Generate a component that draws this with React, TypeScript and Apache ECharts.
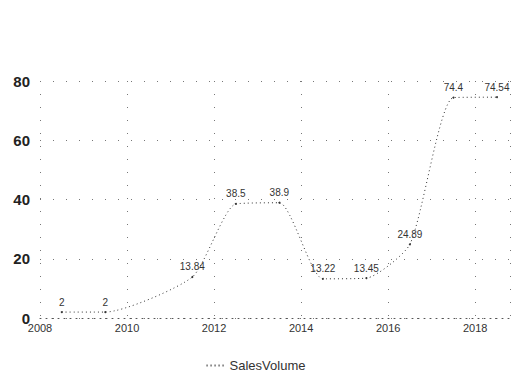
import React, { useEffect, useRef } from "react";
import * as echarts from "echarts";

const years = [2008.5, 2009.5, 2011.5, 2012.5, 2013.5, 2014.5, 2015.5, 2016.5, 2017.5, 2018.5];
const salesVolume = [2, 2, 13.84, 38.5, 38.9, 13.22, 13.45, 24.89, 74.4, 74.54];
const seriesName = "SalesVolume";
const yTicks = [0, 20, 40, 60, 80];

export default function App() {
  const ref = useRef<HTMLDivElement>(null);
  useEffect(() => {
    if (!ref.current) return;
    const chart = echarts.init(ref.current, undefined, { renderer: "svg" });
    chart.setOption({
      animation: false,
      backgroundColor: "#ffffff",
      grid: { left: 40, top: 81, right: 1, bottom: 63, containLabel: false },
      legend: {
        show: true,
        bottom: 4,
        left: "center",
        itemWidth: 18,
        itemHeight: 10,
        itemGap: 8,
        itemStyle: { opacity: 0 },
        textStyle: { fontSize: 13, color: "#333" },
      },
      xAxis: {
        type: "value",
        min: 2008,
        max: 2018.8,
        interval: 2,
        axisLine: { show: true, lineStyle: { color: "#555", type: [1, 5] } },
        axisTick: { show: false },
        axisLabel: {
          fontSize: 11,
          color: "#333",
          margin: 4,
          formatter: (v: number) => String(v),
          showMaxLabel: false,
        },
        splitLine: { show: true, lineStyle: { color: "#777", type: [1, 12] } },
      },
      yAxis: {
        type: "value",
        min: yTicks[0],
        max: yTicks[yTicks.length - 1],
        interval: 20,
        axisLine: { show: false },
        axisTick: { show: false },
        axisLabel: { fontSize: 15, fontWeight: "bold", color: "#222", margin: 10 },
        splitLine: { show: true, lineStyle: { color: "#777", type: [1, 12] } },
      },
      series: [
        {
          name: seriesName,
          type: "line",
          smooth: 0.2,
          data: years.map((y, i) => [y, salesVolume[i]]),
          symbol: "circle",
          symbolSize: 2,
          itemStyle: { color: "#333" },
          lineStyle: { color: "#333", width: 1, type: [1, 3] },
          label: {
            show: true,
            position: "top",
            distance: 4,
            fontSize: 10,
            color: "#333",
            formatter: (p: any) => String(p.value[1]),
          },
        },
      ],
    });
    return () => chart.dispose();
  }, []);
  return (
    <div
      ref={ref}
      style={{ position: "fixed", left: 0, top: 0, width: 511, height: 381 }}
    />
  );
}
